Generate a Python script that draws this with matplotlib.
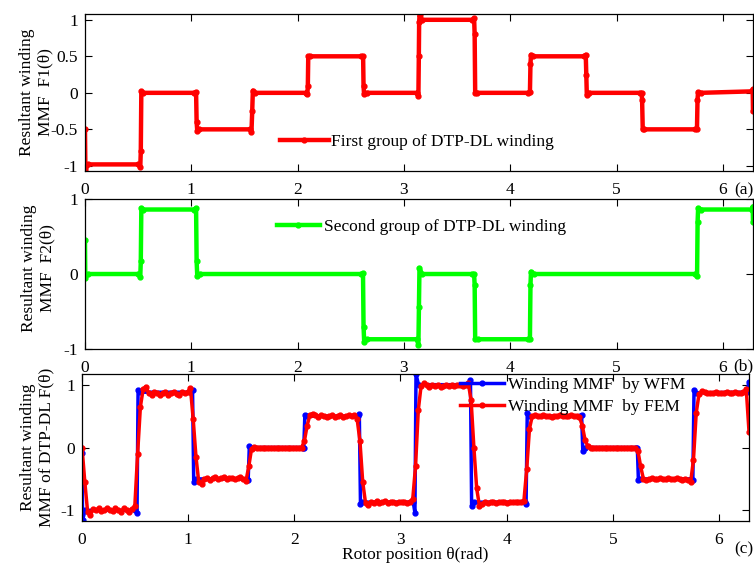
import numpy as np
import matplotlib.pyplot as plt

plt.rcParams['font.family'] = ['Liberation Serif', 'DejaVu Serif']
plt.rcParams['font.size'] = 12.5

# ------------------ data ------------------
# (a) first group of DTP-DL winding, F1(theta)
x_f1 = [0.000, 0.004, 0.030, 0.500, 0.520, 0.525, 0.530, 0.550, 1.030, 1.045,
        1.050, 1.056, 1.070, 1.550, 1.566, 1.573, 1.579, 1.600, 2.080, 2.091,
        2.096, 2.100, 2.120, 2.600, 2.616, 2.620, 2.625, 2.650, 3.120, 3.136,
        3.140, 3.143, 3.147, 3.170, 3.640, 3.660, 3.665, 3.670, 3.690, 4.170,
        4.185, 4.190, 4.195, 4.210, 4.690, 4.710, 4.715, 4.720, 4.740, 5.220,
        5.236, 5.240, 5.246, 5.260, 5.740, 5.756, 5.761, 5.766, 5.790, 6.270,
        6.280, 6.283]
y_f1 = [-0.5, -1.06, -0.98, -0.98, -1.02, -0.8, 0.02, 0.0, 0.0, 0.01,
        -0.4, -0.52, -0.5, -0.5, -0.53, -0.25, 0.03, 0.0, 0.0, -0.02,
        0.09, 0.5, 0.5, 0.5, 0.5, 0.09, -0.02, 0.0, 0.0, -0.04,
        0.5, 0.97, 1.06, 1.0, 1.0, 1.02, 0.8, 0.0, 0.0, 0.0,
        0.01, 0.4, 0.52, 0.5, 0.5, 0.52, 0.25, -0.03, 0.0, 0.0,
        0.0, -0.1, -0.5, -0.5, -0.5, -0.5, -0.1, 0.01, 0.0, 0.02,
        0.05, -0.25]

# (b) second group of DTP-DL winding, F2(theta)
x_f2 = [0.000, 0.003, 0.030, 0.500, 0.520, 0.525, 0.530, 0.550, 1.030, 1.045,
        1.050, 1.056, 1.080, 2.600, 2.615, 2.620, 2.626, 2.650, 3.120, 3.136,
        3.141, 3.146, 3.170, 3.640, 3.660, 3.665, 3.670, 3.700, 4.170, 4.185,
        4.190, 4.195, 4.220, 5.740, 5.757, 5.762, 5.767, 5.790, 6.270, 6.280,
        6.283]
y_f2 = [0.45, -0.05, 0.0, 0.0, -0.04, 0.17, 0.88, 0.86, 0.86, 0.88,
        0.17, -0.02, 0.0, 0.0, 0.01, -0.7, -0.9, -0.87, -0.87, -0.94,
        -0.44, 0.08, 0.0, 0.0, 0.0, -0.15, -0.87, -0.87, -0.87, -0.87,
        -0.15, 0.03, 0.0, 0.0, -0.02, 0.7, 0.88, 0.86, 0.86, 0.9,
        0.7]

# (c) resultant MMF by winding function method (WFM)
x_wfm = [0.000, 0.005, 0.030, 0.500, 0.518, 0.528, 0.550, 1.020, 1.041, 1.052,
         1.070, 1.550, 1.565, 1.576, 1.600, 2.080, 2.089, 2.099, 2.120, 2.600,
         2.612, 2.623, 2.640, 3.120, 3.136, 3.146, 3.170, 3.640, 3.659, 3.670,
         3.690, 4.170, 4.183, 4.194, 4.210, 4.690, 4.706, 4.717, 4.740, 5.220,
         5.231, 5.241, 5.260, 5.740, 5.754, 5.765, 5.780, 6.260, 6.283]
y_wfm = [-0.08, -1.15, -1.0, -1.0, -1.05, 0.92, 0.88, 0.88, 0.92, -0.55,
         -0.5, -0.5, -0.52, 0.03, 0.0, 0.0, 0.0, 0.52, 0.5, 0.5,
         0.53, -0.9, -0.87, -0.87, -1.04, 1.17, 1.0, 1.0, 1.08, -0.93,
         -0.87, -0.87, -0.9, 0.55, 0.5, 0.5, 0.52, -0.05, 0.0, 0.0,
         0.0, -0.52, -0.5, -0.5, -0.52, 0.92, 0.87, 0.88, 1.04]

# (c) resultant MMF by FEM, sampled every 1.5 deg (one row per 30 deg)
fem_deg = np.arange(0, 360.1, 1.5)
fem_mmf = [
    0.0, -0.55, -1.02, -1.07, -0.98, -1.0, -0.97, -1.01, -1.0, -0.97, -1.0, -1.01, -0.97, -0.99, -1.02, -0.97, -1.0, -1.02, -0.98, -0.93,
    -0.1, 0.65, 0.93, 0.97, 0.86, 0.84, 0.88, 0.86, 0.83, 0.87, 0.88, 0.84, 0.86, 0.89, 0.85, 0.84, 0.88, 0.86, 0.88, 0.95,
    0.45, -0.15, -0.55, -0.58, -0.5, -0.48, -0.51, -0.49, -0.47, -0.5, -0.49, -0.47, -0.5, -0.49, -0.48, -0.5, -0.49, -0.47, -0.5, -0.53,
    -0.3, -0.02, 0.01, 0.0, 0.0, 0.0, 0.0, 0.0, 0.0, 0.0, 0.0, 0.0, 0.0, 0.0, 0.0, 0.0, 0.0, 0.0, 0.0, 0.0,
    0.1, 0.35, 0.52, 0.54, 0.51, 0.49, 0.51, 0.5, 0.48, 0.5, 0.51, 0.49, 0.5, 0.51, 0.49, 0.5, 0.51, 0.5, 0.52, 0.45,
    0.1, -0.55, -0.88, -0.92, -0.86, -0.88, -0.85, -0.88, -0.87, -0.85, -0.88, -0.86, -0.87, -0.88, -0.87, -0.86, -0.87, -0.88, -0.86, -0.82,
    -0.3, 0.6, 0.98, 1.02, 0.99, 0.96, 0.99, 0.98, 1.0, 0.97, 0.98, 1.0, 0.98, 0.99, 0.98, 0.99, 1.0, 0.98, 1.0, 1.02,
    0.75, 0.0, -0.65, -0.93, -0.9, -0.86, -0.88, -0.87, -0.86, -0.88, -0.87, -0.86, -0.87, -0.88, -0.86, -0.87, -0.86, -0.87, -0.86, -0.85,
    -0.35, 0.3, 0.5, 0.51, 0.5, 0.5, 0.51, 0.5, 0.5, 0.49, 0.5, 0.5, 0.51, 0.5, 0.5, 0.5, 0.51, 0.5, 0.5, 0.48,
    0.35, 0.12, 0.02, 0.0, 0.0, 0.0, 0.0, 0.0, 0.0, 0.0, 0.0, 0.0, 0.0, 0.0, 0.0, 0.0, 0.0, 0.0, 0.0, 0.0,
    -0.05, -0.3, -0.5, -0.52, -0.5, -0.49, -0.5, -0.5, -0.49, -0.5, -0.5, -0.49, -0.5, -0.5, -0.49, -0.5, -0.51, -0.5, -0.52, -0.55,
    -0.2, 0.55, 0.85, 0.9, 0.88, 0.87, 0.86, 0.87, 0.88, 0.87, 0.86, 0.87, 0.89, 0.86, 0.87, 0.88, 0.86, 0.87, 0.88, 0.93,
    0.25,
]

xticks = [0, 1, 2, 3, 4, 5, 6]


def style_axes(ax, ylim, yticks, yticklabels):
    ax.set_xlim(0, 2 * np.pi)
    ax.set_ylim(*ylim)
    ax.set_xticks(xticks)
    ax.set_yticks(yticks)
    ax.set_yticklabels(yticklabels)
    ax.tick_params(direction="in", top=True, right=True, length=5, width=0.8,
                   labelsize=12.5)
    ax.tick_params(axis="x", pad=8)
    ax.tick_params(axis="y", pad=5)
    for s in ax.spines.values():
        s.set_linewidth(0.9)


fig = plt.figure(figsize=(7.54, 5.63), dpi=100)
ax1 = fig.add_axes([0.1127, 0.6963, 0.886, 0.2789])
ax2 = fig.add_axes([0.1127, 0.3801, 0.886, 0.2664])
ax3 = fig.add_axes([0.1088, 0.0746, 0.8846, 0.2611])

# ------------------ (a) ------------------
ax1.plot(x_f1, y_f1, color="#ff0000", lw=3.2, marker="o", ms=3.5,
         label="First group of DTP-DL winding")
style_axes(ax1, (-1.07, 1.08), [-1, -0.5, 0, 0.5, 1], ["-1", "-0.5", "0", "0.5", "1"])
ax1.set_ylabel("Resultant winding\nMMF  F1(\u03b8)")
ax1.yaxis.set_label_coords(-0.048, 0.5)
ax1.legend(loc="center left", bbox_to_anchor=(0.292, 0.185), frameon=False,
           handlelength=2.8, handletextpad=0.15, borderpad=0, borderaxespad=0,
           fontsize=12.5)

# ------------------ (b) ------------------
ax2.plot(x_f2, y_f2, color="#00ff00", lw=3.2, marker="o", ms=3.5,
         label="Second group of DTP-DL winding")
style_axes(ax2, (-1, 1), [-1, 0, 1], ["-1", "0", "1"])
ax2.set_ylabel("Resultant winding\nMMF  F2(\u03b8)")
ax2.yaxis.set_label_coords(-0.045, 0.54)
ax2.legend(loc="center left", bbox_to_anchor=(0.287, 0.813), frameon=False,
           handlelength=2.5, handletextpad=0.25, borderpad=0, borderaxespad=0,
           fontsize=12.5)

# ------------------ (c) ------------------
ax3.plot(x_wfm, y_wfm, color="#0000ff", lw=2.5, marker="o", ms=3.5,
         label="Winding MMF  by WFM")
ax3.plot(np.radians(fem_deg), fem_mmf, color="#ff0000", lw=2.5, marker="o",
         ms=3.5, label="Winding MMF  by FEM")
style_axes(ax3, (-1.17, 1.17), [-1, 0, 1], ["-1", "0", "1"])
ax3.set_ylabel("Resultant winding\nMMF of DTP-DL F(\u03b8)")
ax3.yaxis.set_label_coords(-0.041, 0.5)
ax3.set_xlabel("Rotor position \u03b8(rad)", va="bottom")
ax3.xaxis.set_label_coords(0.5, -0.285)
ax3.legend(loc="center left", bbox_to_anchor=(0.567, 0.85), frameon=False,
           handlelength=2.5, handletextpad=0.25, borderpad=0, borderaxespad=0,
           labelspacing=0.35, fontsize=12.5)

# panel tags
fig.text(0.999, 0.662, "(a)", ha="right", va="center", fontsize=12.5)
fig.text(0.999, 0.349, "(b)", ha="right", va="center", fontsize=12.5)
fig.text(0.999, 0.025, "(c)", ha="right", va="center", fontsize=12.5)

fig.savefig("out.png", dpi=100)
